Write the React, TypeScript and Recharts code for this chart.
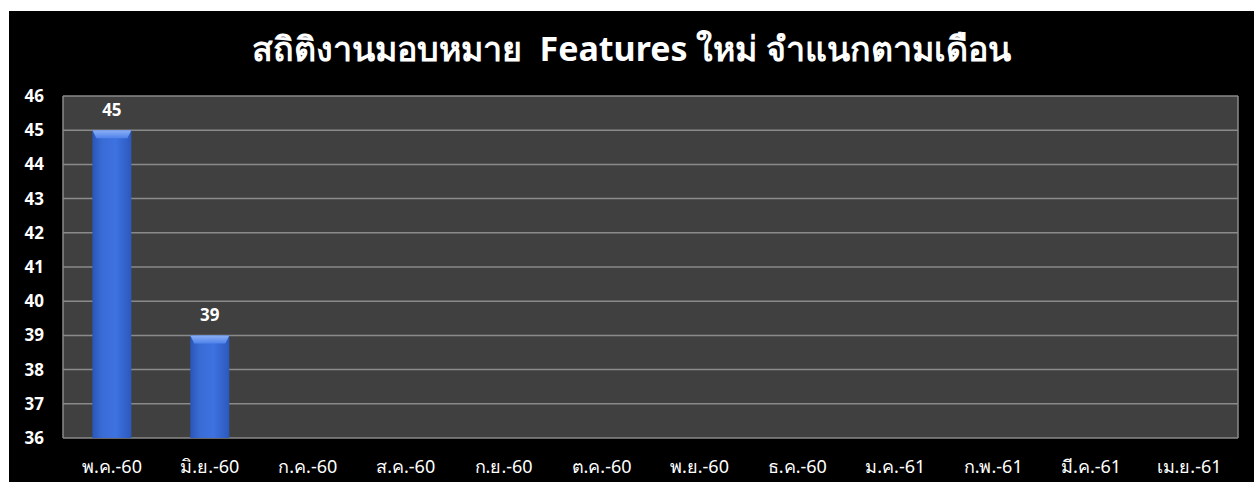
import { BarChart, Bar, XAxis, YAxis, CartesianGrid, LabelList } from "recharts";

const months = [
  "พ.ค.-60", "มิ.ย.-60", "ก.ค.-60", "ส.ค.-60", "ก.ย.-60", "ต.ค.-60",
  "พ.ย.-60", "ธ.ค.-60", "ม.ค.-61", "ก.พ.-61", "มี.ค.-61", "เม.ย.-61",
];
const features: (number | null)[] = [45, 39, null, null, null, null, null, null, null, null, null, null];
const yTicks = [36, 37, 38, 39, 40, 41, 42, 43, 44, 45, 46];

const title = "สถิติงานมอบหมาย  Features ใหม่ จำแนกตามเดือน";
const font = "Tahoma, 'Segoe UI', 'Noto Sans', 'DejaVu Sans', sans-serif";

const data = months.map((m, i) => ({ month: m, value: features[i] }));

// cylinder-ish bar with a lighter bevel cap, like the Excel look
const BevelBar = (props: any) => {
  const { x, y, width, height } = props;
  if (!height || height <= 0) return null;
  const cap = Math.min(8, height);
  return (
    <g>
      <rect x={x} y={y} width={width} height={height} fill="url(#barGrad)" />
      <polygon
        points={`${x},${y} ${x + width},${y} ${x + width - 4},${y + cap} ${x + 4},${y + cap}`}
        fill="url(#capGrad)"
      />
    </g>
  );
};

export default function App() {
  return (
    <div
      style={{
        position: "absolute",
        left: 9,
        top: 11,
        width: 1245,
        height: 471,
        background: "#000",
        fontFamily: font,
      }}
    >
      <div
        style={{
          position: "absolute",
          top: 11,
          left: 0,
          width: 1245,
          textAlign: "center",
          color: "#fff",
          fontSize: 34,
          fontWeight: 700,
          whiteSpace: "pre",
        }}
      >
        {title}
      </div>
      <BarChart
        width={1245}
        height={471}
        data={data}
        margin={{ top: 85, right: 0, bottom: 14, left: 0 }}
        barCategoryGap="30%"
      >
        <defs>
          <linearGradient id="barGrad" x1="0" y1="0" x2="1" y2="0">
            <stop offset="0%" stopColor="#2a56b8" />
            <stop offset="25%" stopColor="#3a6cd6" />
            <stop offset="60%" stopColor="#3e72e0" />
            <stop offset="100%" stopColor="#2b58bc" />
          </linearGradient>
          <linearGradient id="capGrad" x1="0" y1="0" x2="0" y2="1">
            <stop offset="0%" stopColor="#8cb0f5" />
            <stop offset="100%" stopColor="#4f82ea" />
          </linearGradient>
        </defs>
        <CartesianGrid
          yAxisId="left"
          vertical={false}
          fill="#404040"
          stroke="#8a8a8a"
          strokeWidth={1.5}
          fillOpacity={1}
        />
        <XAxis
          dataKey="month"
          height={30}
          axisLine={false}
          tickLine={false}
          tickMargin={16}
          interval={0}
          tick={{ fill: "#fff", fontSize: 18, fontFamily: font }}
        />
        <YAxis
          yAxisId="left"
          domain={[36, 46]}
          ticks={yTicks}
          width={54}
          axisLine={{ stroke: "#8a8a8a", strokeWidth: 1.5 }}
          tickLine={false}
          tickSize={0}
          tickMargin={19}
          tick={{ fill: "#fff", fontSize: 17, fontWeight: 700, fontFamily: font }}
        />
        <YAxis
          yAxisId="right"
          orientation="right"
          domain={[36, 46]}
          ticks={yTicks}
          width={16}
          axisLine={{ stroke: "#8a8a8a", strokeWidth: 1.5 }}
          tickLine={false}
          tick={false}
        />
        <Bar
          yAxisId="left"
          dataKey="value"
          shape={BevelBar}
          isAnimationActive={false}
        >
          <LabelList
            dataKey="value"
            position="top"
            offset={14}
            fill="#fff"
            fontSize={17}
            fontWeight={700}
            fontFamily={font}
          />
        </Bar>
      </BarChart>
    </div>
  );
}
